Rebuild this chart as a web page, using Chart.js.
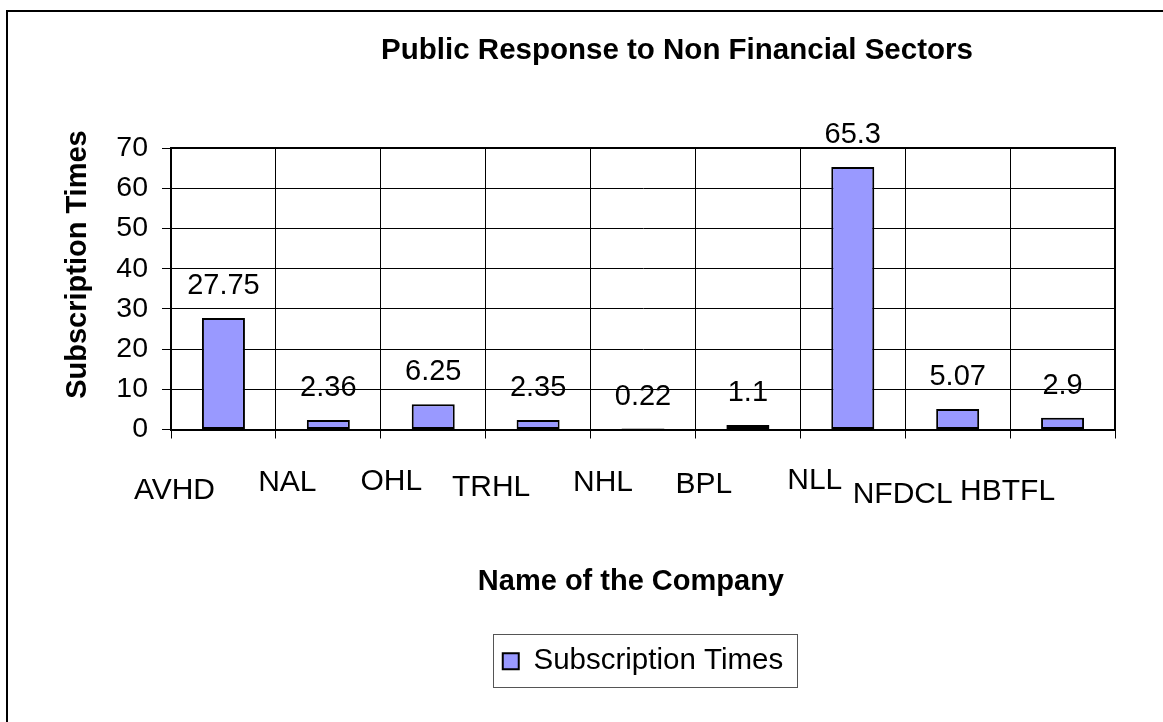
<!DOCTYPE html>
<html>
<head>
<meta charset="utf-8">
<style>
  html, body { margin: 0; padding: 0; background: #ffffff; }
  #wrap { width: 1163px; height: 722px; position: relative; }
</style>
<script src="https://cdn.jsdelivr.net/npm/chart.js@4.4.1/dist/chart.umd.min.js"></script>
</head>
<body>
<div id="wrap"><canvas id="c" width="1163" height="722"></canvas></div>
<script>
// ---------- data ----------
const categories = ['AVHD', 'NAL', 'OHL', 'TRHL', 'NHL', 'BPL', 'NLL', 'NFDCL', 'HBTFL'];
const subscriptionTimes = [27.75, 2.36, 6.25, 2.35, 0.22, 1.1, 65.3, 5.07, 2.9];
const yTickValues = [0, 10, 20, 30, 40, 50, 60, 70];
const seriesName = 'Subscription Times';
const chartTitle = 'Public Response to Non Financial Sectors';
const xAxisTitle = 'Name of the Company';
const yAxisTitle = 'Subscription Times';

// ---------- style / placement ----------
const FONT = '"Liberation Sans", Arial, sans-serif';
const labelShiftX = [-49, -41, -42, -47, -40, -44, -38, -55, -55];
const labelShiftY = [61, 53, 52, 58, 53, 55, 51, 65, 62];
const titleShift = 34;

Chart.defaults.font.family = FONT;
Chart.defaults.color = '#000';

const decor = {
  id: 'decor',
  beforeDraw(chart) {
    const ctx = chart.ctx;
    ctx.save();
    ctx.fillStyle = '#ffffff';
    ctx.fillRect(0, 0, chart.width, chart.height);
    ctx.fillStyle = '#000';
    ctx.fillRect(6, 10, 2, chart.height - 10);
    ctx.fillRect(6, 10, chart.width - 6, 2);
    ctx.restore();
  },
  afterLayout(chart) {
    const tb = chart.titleBlock;
    const ca = chart.chartArea;
    const w = tb.right - tb.left;
    const c = (ca.left + ca.right) / 2 + titleShift;
    tb.left = c - w / 2;
    tb.right = c + w / 2;
  },
  afterDatasetsDraw(chart) {
    const ctx = chart.ctx;
    const meta = chart.getDatasetMeta(0);
    ctx.save();
    ctx.font = '29px ' + FONT;
    ctx.fillStyle = '#000';
    ctx.textAlign = 'center';
    ctx.textBaseline = 'middle';
    meta.data.forEach((bar, i) => {
      ctx.fillText(String(subscriptionTimes[i]), bar.x, bar.y - 32);
    });
    ctx.restore();
  },
  afterDraw(chart) {
    const ctx = chart.ctx;
    const ca = chart.chartArea;
    const xs = chart.scales.x;
    ctx.save();
    // plot frame top/right
    ctx.strokeStyle = '#000';
    ctx.lineWidth = 2;
    ctx.strokeRect(Math.round(ca.left), Math.round(ca.top), Math.round(ca.right - ca.left), Math.round(ca.bottom - ca.top));
    // category labels (staggered)
    ctx.font = '30px ' + FONT;
    ctx.fillStyle = '#000';
    ctx.textAlign = 'center';
    ctx.textBaseline = 'middle';
    categories.forEach((name, i) => {
      ctx.fillText(name, xs.getPixelForTick(i) + labelShiftX[i], xs.top + labelShiftY[i]);
    });
    // legend frame
    const hb = chart.legend && chart.legend.legendHitBoxes && chart.legend.legendHitBoxes[0];
    if (hb) {
      ctx.strokeStyle = '#555';
      ctx.lineWidth = 1;
      const l = Math.round(hb.left - 10) + 0.5;
      const t = Math.round(hb.top - 13) + 0.5;
      const r = Math.round(hb.left + hb.width + 14) + 0.5;
      const b = Math.round(hb.top + hb.height + 11) + 0.5;
      ctx.strokeRect(l, t, r - l, b - t);
    }
    ctx.restore();
  }
};

new Chart(document.getElementById('c'), {
  type: 'bar',
  data: {
    labels: categories,
    datasets: [{
      label: seriesName,
      data: subscriptionTimes,
      backgroundColor: '#9999FF',
      borderColor: '#000',
      borderWidth: 2,
      borderSkipped: false,
      barPercentage: 0.41,
      categoryPercentage: 1.0
    }]
  },
  options: {
    responsive: false,
    animation: false,
    devicePixelRatio: 1,
    layout: { padding: { top: 12, left: 8, right: 48, bottom: 36 } },
    plugins: {
      title: {
        display: true,
        text: chartTitle,
        color: '#000',
        font: { size: 29.5, weight: 'bold', lineHeight: 1.2 },
        padding: { top: 20.8, bottom: 79.8 }
      },
      legend: {
        position: 'bottom',
        fullSize: false,
        labels: {
          color: '#000',
          font: { size: 29.5 },
          boxWidth: 16,
          boxHeight: 16,
          padding: 10
        }
      },
      tooltip: { enabled: false }
    },
    scales: {
      x: {
        grid: { offset: true, color: '#000', lineWidth: 1, tickLength: 9, drawTicks: true },
        border: { color: '#000', width: 2 },
        ticks: { display: false },
        title: {
          display: true,
          text: xAxisTitle + '   ',
          color: '#000',
          font: { size: 29, weight: 'bold', lineHeight: 1.2 },
          padding: { top: 126.2, bottom: 37.6 }
        },
        afterFit: s => { s.height = 207; }
      },
      y: {
        min: 0,
        max: 70,
        afterBuildTicks: s => { s.ticks = yTickValues.map(v => ({ value: v })); },
        afterFit: s => { s.width = 163; },
        grid: { color: '#000', lineWidth: 1, tickLength: 9, drawTicks: true },
        border: { color: '#000', width: 2 },
        ticks: { color: '#000', font: { size: 28.5 }, padding: 14 },
        title: {
          display: true,
          text: '      ' + yAxisTitle,
          color: '#000',
          font: { size: 29, weight: 'bold', lineHeight: 1.2 },
          padding: { top: 52.6, bottom: 22 }
        }
      }
    }
  },
  plugins: [decor]
});
</script>
</body>
</html>
